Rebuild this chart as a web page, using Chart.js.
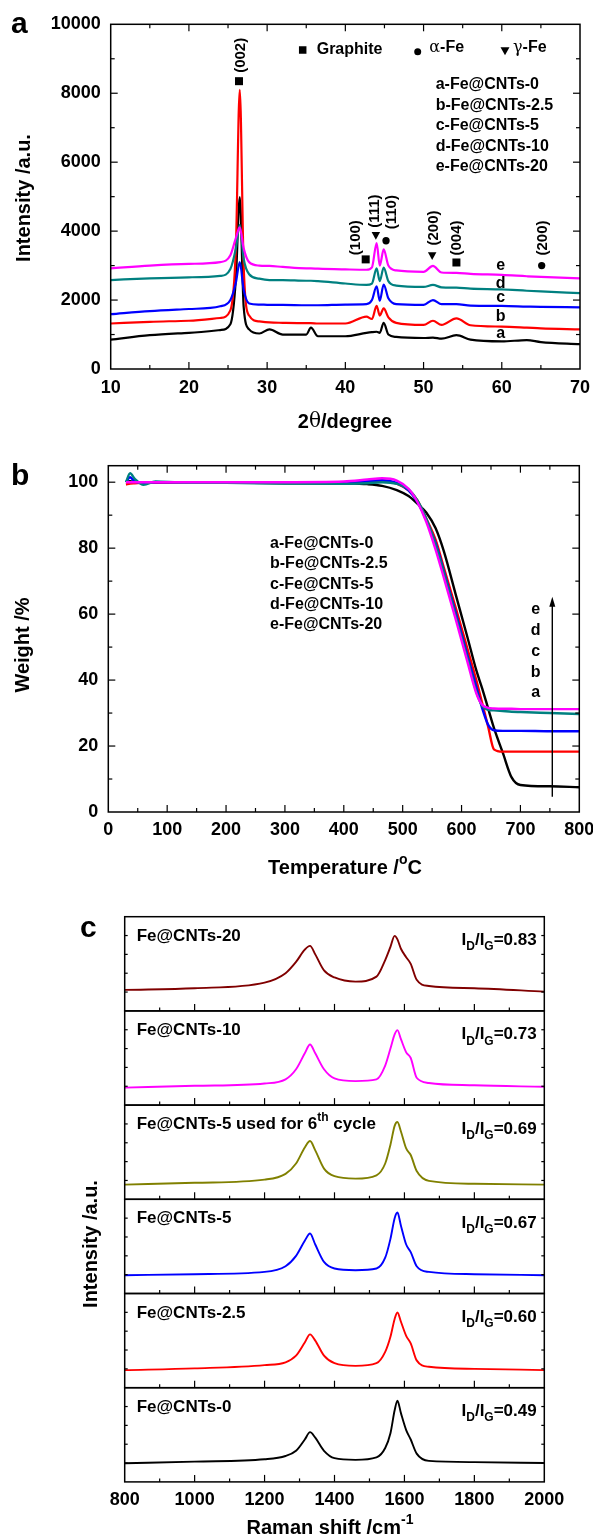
<!DOCTYPE html>
<html>
<head>
<meta charset="utf-8">
<title>Fe@CNTs: XRD, TGA and Raman</title>
<script src="https://cdn.jsdelivr.net/npm/chart.js@4.4.1/dist/chart.umd.min.js"></script>
<style>
  html, body { margin: 0; padding: 0; background: #fff; }
  #fig { position: relative; width: 593px; height: 1538px; overflow: hidden; }
  #fig canvas { position: absolute; left: 0; }
</style>
</head>
<body>
<div id="fig">
  <canvas id="xrd" width="593" height="440" style="top:0px"></canvas>
  <canvas id="tga" width="593" height="440" style="top:440px"></canvas>
</div>
<script>
// ---------------- data ----------------
// (a) XRD, 2theta in degrees
var twoTheta = [10, 15, 20, 24, 25.3, 26, 26.5, 27, 27.7, 29, 30.3, 32, 35, 35.6, 36.5, 40, 42.7, 43.4, 44, 44.4, 44.9, 45.5, 46.5, 50, 51.2, 52.3, 54.2, 56, 60, 63.2, 65, 70];
var xrdFe0   = [850, 980, 1050, 1130, 1300, 2600, 4990, 1800, 1150, 1030, 1150, 1000, 1000, 1200, 950, 950, 1050, 1070, 1080, 1050, 1340, 1000, 930, 900, 910, 880, 980, 850, 800, 840, 780, 720];
var xrdFe2_5 = [1320, 1370, 1400, 1480, 1700, 3500, 8100, 3000, 1550, 1380, 1350, 1340, 1330, 1330, 1320, 1320, 1520, 1450, 1830, 1550, 1760, 1500, 1340, 1280, 1400, 1280, 1470, 1270, 1230, 1200, 1180, 1150];
var xrdFe5   = [1590, 1680, 1740, 1820, 2000, 2500, 3100, 2300, 1900, 1870, 1860, 1860, 1850, 1850, 1850, 1870, 1880, 2000, 2400, 1980, 2450, 2050, 1880, 1860, 2000, 1880, 1880, 1840, 1830, 1810, 1800, 1790];
var xrdFe10  = [2580, 2630, 2660, 2700, 2900, 3500, 4180, 3200, 2750, 2620, 2580, 2580, 2560, 2560, 2550, 2480, 2440, 2480, 2920, 2550, 2940, 2550, 2420, 2380, 2440, 2370, 2360, 2330, 2310, 2270, 2250, 2200];
var xrdFe20  = [2920, 3000, 3050, 3100, 3300, 3800, 4110, 3500, 3100, 3000, 2990, 2960, 2920, 2920, 2910, 2890, 2880, 2950, 3650, 3000, 3470, 3000, 2860, 2820, 2990, 2800, 2790, 2760, 2730, 2690, 2670, 2630];
var xrdXTicks = [10, 20, 30, 40, 50, 60, 70];
var xrdYTicks = [0, 2000, 4000, 6000, 8000, 10000];

// (b) TGA, weight % vs temperature
var tgaTemp   = [30, 37, 45, 60, 80, 120, 200, 300, 400, 440, 465, 490, 510, 525, 540, 556, 570, 590, 610, 625, 635, 645, 655, 670, 685, 700, 750, 800];
var tgaFe0    = [100, 100.3, 100, 99.9, 100, 100, 99.9, 99.7, 99.6, 99.4, 98.9, 97.6, 95.8, 93.5, 90.8, 86, 79, 66, 53, 43, 37.5, 31.5, 25.5, 18, 10.5, 8.2, 7.8, 7.5];
var tgaFe2_5  = [99.3, 99.6, 99.7, 99.8, 99.9, 99.9, 99.9, 99.8, 99.9, 100.3, 100.5, 99.6, 97.5, 94.5, 89, 82.5, 74, 62, 49.5, 40, 33, 26, 19, 18.3, 18.3, 18.3, 18.3, 18.3];
var tgaFe5    = [100, 101.5, 100.2, 99.8, 100, 100, 100, 99.9, 99.9, 100.3, 100.6, 99.8, 97.5, 94, 88.5, 81.5, 73, 60.5, 47.5, 38, 31.5, 26.5, 24.8, 24.6, 24.6, 24.6, 24.5, 24.5];
var tgaFe10   = [100, 102.7, 101, 99.2, 100.2, 99.9, 99.8, 99.6, 99.5, 99.7, 100, 99.5, 97.8, 94.5, 89, 81, 72.5, 59.5, 46.5, 36.5, 32.2, 31, 30.8, 30.6, 30.4, 30.3, 30, 29.7];
var tgaFe20   = [100, 100, 100, 100, 100, 100, 100, 100, 100.2, 100.8, 101.2, 100.5, 98, 94, 88, 79.5, 71, 58.5, 45.5, 36, 32.5, 31.6, 31.4, 31.3, 31.3, 31.2, 31.2, 31.2];
var tgaXTicks = [0, 100, 200, 300, 400, 500, 600, 700, 800];
var tgaYTicks = [0, 20, 40, 60, 80, 100];

var sampleNames = ['a-Fe@CNTs-0', 'b-Fe@CNTs-2.5', 'c-Fe@CNTs-5', 'd-Fe@CNTs-10', 'e-Fe@CNTs-20'];

// (c) Raman, intensity in a.u. (each panel 0..100)
var ramanShift     = [800, 1000, 1200, 1260, 1290, 1315, 1330, 1345, 1370, 1400, 1460, 1520, 1545, 1560, 1572, 1580, 1590, 1605, 1618, 1635, 1670, 1800, 2000];
var ramanFe20      = [22.3, 24.1, 30, 40, 52, 65, 69, 60, 43, 35.5, 31.1, 36.4, 54, 68, 79.6, 76, 66, 57, 50, 33, 26.5, 24.1, 20.5];
var ramanFe10      = [18.5, 20.5, 23, 27.3, 38, 55, 64.4, 55, 38, 28.3, 25.5, 27.3, 42, 60, 75, 79.6, 70, 56, 50, 29, 23.5, 21, 19.5];
var ramanFe5Cycled = [15.6, 17.5, 20.9, 27, 38, 55, 61.9, 52, 32.6, 24.5, 22, 25.5, 38, 58, 78, 82, 72, 54, 47, 30, 19.5, 16.5, 15.6];
var ramanFe5       = [19.4, 20.5, 22.9, 29, 40, 56, 63.7, 52, 33.5, 26.5, 24.7, 26.5, 38, 58, 80, 86, 72, 52, 44, 29, 22.9, 20.5, 19.4];
var ramanFe2_5     = [18.7, 20.5, 24, 27, 34, 48, 56.6, 50, 34, 26, 23.2, 26, 38, 54, 73, 79.9, 70, 55, 47, 29, 22.2, 20, 18.7];
var ramanFe0       = [19.8, 21.5, 24, 27.5, 33, 45, 52.8, 47, 33, 25.2, 23.4, 26, 36, 51.7, 76, 86.3, 73, 55, 45, 30, 22.3, 21, 20];
var ramanRatios    = ['0.83', '0.73', '0.69', '0.67', '0.60', '0.49'];
var ramanXTicks    = [800, 1000, 1200, 1400, 1600, 1800, 2000];

// ---------------- helpers ----------------
var FONT = "'Liberation Sans', Arial, Helvetica, sans-serif";
Chart.defaults.font.family = FONT;
Chart.defaults.color = '#000';

function setFont(ctx, size, weight, family) {
  ctx.font = (weight || 'bold') + ' ' + size + 'px ' + (family || FONT);
}

// parts: strings or {t, sub, sup, weight, family}
function drawRich(ctx, parts, x, y, size, align) {
  var list = [].concat(parts).map(function (p) {
    if (typeof p === 'string') p = { t: p };
    var small = p.sub || p.sup;
    return {
      t: p.t,
      s: small ? Math.round(size * 0.68) : size,
      dy: p.sub ? size * 0.3 : (p.sup ? -size * 0.4 : 0),
      weight: p.weight, family: p.family
    };
  });
  var total = 0;
  list.forEach(function (it) {
    setFont(ctx, it.s, it.weight, it.family);
    it.w = ctx.measureText(it.t).width;
    total += it.w;
  });
  var cx = align === 'right' ? x - total : (align === 'center' ? x - total / 2 : x);
  ctx.textAlign = 'left';
  list.forEach(function (it) {
    setFont(ctx, it.s, it.weight, it.family);
    ctx.fillText(it.t, cx, y + it.dy);
    cx += it.w;
  });
}

function drawMarker(ctx, shape, x, y, s) {
  ctx.beginPath();
  if (shape === 'square') {
    ctx.rect(x - s / 2, y - s / 2, s, s);
  } else if (shape === 'circle') {
    ctx.arc(x, y, s / 2, 0, Math.PI * 2);
  } else {
    ctx.moveTo(x - s / 2, y - s * 0.42);
    ctx.lineTo(x + s / 2, y - s * 0.42);
    ctx.lineTo(x, y + s * 0.48);
    ctx.closePath();
  }
  ctx.fill();
}

// tick marks [value, length] between min and max (ends skipped, they sit on the frame)
function tickMarks(min, max, step, majors, majorLen, minorLen) {
  var out = [];
  for (var v = min + step; v < max - 1e-9; v += step) {
    out.push([v, majors.indexOf(v) >= 0 ? majorLen : minorLen]);
  }
  return out;
}

// frame, inward ticks, markers and text drawn on top of the datasets
function decor(cfg) {
  return {
    id: 'decor',
    afterDatasetsDraw: function (chart) {
      var ctx = chart.ctx, a = chart.chartArea, sx = chart.scales.x, sy = chart.scales.y;
      ctx.save();
      ctx.strokeStyle = '#000';
      ctx.fillStyle = '#000';
      ctx.lineWidth = 1.5;
      ctx.strokeRect(a.left, a.top, a.right - a.left, a.bottom - a.top);
      ctx.lineWidth = 1.2;
      function seg(x1, y1, x2, y2) { ctx.beginPath(); ctx.moveTo(x1, y1); ctx.lineTo(x2, y2); ctx.stroke(); }
      (cfg.xTicks || []).forEach(function (t) {
        var px = sx.getPixelForValue(t[0]);
        seg(px, a.bottom, px, a.bottom - t[1]);
        if (cfg.mirror) seg(px, a.top, px, a.top + t[1]);
      });
      (cfg.yTicks || []).forEach(function (t) {
        var py = sy.getPixelForValue(t[0]);
        seg(a.left, py, a.left + t[1], py);
        seg(a.right, py, a.right - t[1], py);
      });
      (cfg.markers || []).forEach(function (m) {
        drawMarker(ctx, m.shape, m.px ? m.x : sx.getPixelForValue(m.x), m.px ? m.y : sy.getPixelForValue(m.y), m.size);
      });
      (cfg.arrows || []).forEach(function (r) {
        ctx.lineWidth = 1.4;
        seg(r.x, r.y1, r.x, r.y2 + 8);
        ctx.beginPath();
        ctx.moveTo(r.x, r.y2);
        ctx.lineTo(r.x - 3, r.y2 + 10);
        ctx.lineTo(r.x + 3, r.y2 + 10);
        ctx.closePath();
        ctx.fill();
      });
      (cfg.texts || []).forEach(function (t) {
        var px, py;
        if (t.rel) { px = a.left + t.x; py = a.top + t.y; }
        else if (t.data) { px = sx.getPixelForValue(t.x); py = sy.getPixelForValue(t.y); }
        else { px = t.x; py = t.y; }
        ctx.save();
        ctx.textBaseline = t.baseline || 'middle';
        ctx.translate(px, py);
        if (t.rotate) ctx.rotate(t.rotate);
        drawRich(ctx, t.parts, 0, 0, t.size, t.align || 'left');
        ctx.restore();
      });
      ctx.restore();
    }
  };
}

function lineSet(xs, ys, color, width) {
  return {
    data: xs.map(function (x, i) { return { x: x, y: ys[i] }; }),
    borderColor: color,
    borderWidth: width,
    pointRadius: 0,
    fill: false,
    cubicInterpolationMode: 'monotone'
  };
}

function fixedTicks(values) {
  return function (scale) { scale.ticks = values.map(function (v) { return { value: v }; }); };
}

function plainLabel(v) { return String(v); }

function xScale(min, max, ticks, height, pad, show) {
  return {
    type: 'linear', min: min, max: max, display: show,
    grid: { display: false, drawTicks: false }, border: { display: false },
    afterBuildTicks: fixedTicks(ticks),
    afterFit: function (s) { s.height = show ? height : 0; s.paddingLeft = 0; s.paddingRight = 0; },
    ticks: { padding: pad, maxRotation: 0, autoSkip: false, color: '#000', callback: plainLabel, font: { size: 18, weight: 'bold' } }
  };
}

function yScale(min, max, ticks, width, show) {
  return {
    type: 'linear', min: min, max: max, display: show,
    grid: { display: false, drawTicks: false }, border: { display: false },
    afterBuildTicks: fixedTicks(ticks),
    afterFit: function (s) { s.width = show ? width : 0; s.paddingTop = 0; s.paddingBottom = 0; },
    ticks: { padding: 10, color: '#000', callback: plainLabel, font: { size: 18, weight: 'bold' } }
  };
}

function baseOptions(padding, scales) {
  return {
    responsive: false, animation: false, events: [],
    layout: { padding: padding },
    plugins: { legend: { display: false }, tooltip: { enabled: false } },
    scales: scales
  };
}

// ---------------- (a) XRD ----------------
var xrdPeaks = [
  { shape: 'square', x: 26.4, y: 8350, label: '(002)', lx: 26.7, ly: 9100 },
  { shape: 'square', x: 42.6, y: 3180, label: '(100)', lx: 41.3, ly: 3810 },
  { shape: 'tri',    x: 43.9, y: 3870, label: '(111)', lx: 43.8, ly: 4580 },
  { shape: 'circle', x: 45.2, y: 3720, label: '(110)', lx: 45.9, ly: 4550 },
  { shape: 'tri',    x: 51.1, y: 3280, label: '(200)', lx: 51.3, ly: 4090 },
  { shape: 'square', x: 54.2, y: 3090, label: '(004)', lx: 54.2, ly: 3800 },
  { shape: 'circle', x: 65.1, y: 3000, label: '(200)', lx: 65.2, ly: 3800 }
];
var markerSize = { square: 8, circle: 7.3, tri: 8.5 };

var xrdTexts = [
  { parts: 'a', x: 11, y: 33, size: 30, baseline: 'alphabetic' },
  { parts: 'Intensity /a.u.', x: 24, y: 198, size: 20, align: 'center', rotate: -Math.PI / 2 },
  { parts: ['2', { t: '\u03b8', weight: 'normal', family: "'DejaVu Serif', serif" }, '/degree'], x: 345, y: 422, size: 20, align: 'center' },
  { parts: 'Graphite', x: 316.7, y: 50, size: 16 },
  { parts: [{ t: '\u03b1', weight: 'normal', family: "'DejaVu Serif', serif" }, '-Fe'], x: 429.3, y: 48, size: 16 },
  { parts: [{ t: '\u03b3', weight: 'normal', family: "'DejaVu Serif', serif" }, '-Fe'], x: 513, y: 48, size: 16 }
];
sampleNames.forEach(function (n, i) {
  xrdTexts.push({ parts: n, x: 435.7, y: 85 + i * 20.4, size: 16 });
});
['e', 'd', 'c', 'b', 'a'].forEach(function (l, i) {
  xrdTexts.push({ parts: l, x: 500.7, y: [266, 283.3, 297.7, 316.7, 334][i], size: 16, align: 'center' });
});
var xrdMarkers = [
  { shape: 'square', x: 302.7, y: 50, size: 7.5, px: true },
  { shape: 'circle', x: 417.7, y: 51.7, size: 7, px: true },
  { shape: 'tri', x: 505, y: 51, size: 9, px: true }
];
xrdPeaks.forEach(function (p) {
  xrdMarkers.push({ shape: p.shape, x: p.x, y: p.y, size: markerSize[p.shape] });
  xrdTexts.push({ parts: p.label, x: p.lx, y: p.ly, data: true, size: 15, align: 'center', rotate: -Math.PI / 2 });
});

new Chart(document.getElementById('xrd'), {
  type: 'line',
  data: {
    datasets: [
      lineSet(twoTheta, xrdFe20, '#ff00ff', 2.2),
      lineSet(twoTheta, xrdFe10, '#008080', 2.2),
      lineSet(twoTheta, xrdFe5, '#0000ff', 2.2),
      lineSet(twoTheta, xrdFe2_5, '#ff0000', 2.2),
      lineSet(twoTheta, xrdFe0, '#000000', 2.2)
    ]
  },
  options: baseOptions({ left: 0, top: 24.3, right: 13, bottom: 0 }, {
    x: xScale(10, 70, xrdXTicks, 71, 8.5, true),
    y: yScale(0, 10000, xrdYTicks, 110.7, true)
  }),
  plugins: [decor({
    mirror: true,
    xTicks: tickMarks(10, 70, 5, xrdXTicks, 7, 4),
    yTicks: tickMarks(0, 10000, 1000, xrdYTicks, 7, 4),
    markers: xrdMarkers,
    texts: xrdTexts
  })]
});

// ---------------- (b) TGA ----------------
var tgaTexts = [
  { parts: 'b', x: 11, y: 45, size: 30, baseline: 'alphabetic' },
  { parts: 'Weight /%', x: 23, y: 205, size: 20, align: 'center', rotate: -Math.PI / 2 },
  { parts: ['Temperature /', { t: 'o', sup: true }, 'C'], x: 345, y: 428, size: 20, align: 'center' }
];
sampleNames.forEach(function (n, i) {
  tgaTexts.push({ parts: n, x: 270, y: 103.3 + i * 20.4, size: 16 });
});
['e', 'd', 'c', 'b', 'a'].forEach(function (l, i) {
  tgaTexts.push({ parts: l, x: 535.7, y: 170 + i * 20.7, size: 16, align: 'center' });
});

new Chart(document.getElementById('tga'), {
  type: 'line',
  data: {
    datasets: [
      lineSet(tgaTemp, tgaFe20, '#ff00ff', 2.4),
      lineSet(tgaTemp, tgaFe10, '#008080', 2.4),
      lineSet(tgaTemp, tgaFe5, '#0000ff', 2.4),
      lineSet(tgaTemp, tgaFe2_5, '#ff0000', 2.4),
      lineSet(tgaTemp, tgaFe0, '#000000', 2.4)
    ]
  },
  options: baseOptions({ left: 0, top: 25.7, right: 13.7, bottom: 0 }, {
    x: xScale(0, 800, tgaXTicks, 68, 7.2, true),
    y: yScale(0, 105, tgaYTicks, 108.3, true)
  }),
  plugins: [decor({
    mirror: true,
    xTicks: tickMarks(0, 800, 50, tgaXTicks, 7, 4),
    yTicks: tickMarks(0, 105, 10, tgaYTicks, 7, 4),
    arrows: [{ x: 552.3, y1: 356.7, y2: 156.7 }],
    texts: tgaTexts
  })]
});

// ---------------- (c) Raman, six stacked panels ----------------
var ramanPanels = [
  { name: ['Fe@CNTs-20'], data: ramanFe20, color: '#800000' },
  { name: ['Fe@CNTs-10'], data: ramanFe10, color: '#ff00ff' },
  { name: ['Fe@CNTs-5 used for 6', { t: 'th', sup: true }, ' cycle'], data: ramanFe5Cycled, color: '#808000' },
  { name: ['Fe@CNTs-5'], data: ramanFe5, color: '#0000ff' },
  { name: ['Fe@CNTs-2.5'], data: ramanFe2_5, color: '#ff0000' },
  { name: ['Fe@CNTs-0'], data: ramanFe0, color: '#000000' }
];

var fig = document.getElementById('fig');
var cH = 678, cTop = 56.7, cStep = 94.2;
ramanPanels.forEach(function (p, i) {
  var cv = document.createElement('canvas');
  cv.width = 593; cv.height = cH;
  cv.style.top = '860px';
  fig.appendChild(cv);

  var last = i === ramanPanels.length - 1;
  var top = cTop + i * cStep;
  var bottom = top + cStep;
  var texts = [
    { parts: p.name, x: 12, y: 19.5, rel: true, size: 17 },
    { parts: ['I', { t: 'D', sub: true }, '/I', { t: 'G', sub: true }, '=' + ramanRatios[i]], x: 412, y: 28.5, rel: true, size: 17, align: 'right', baseline: 'alphabetic' }
  ];
  if (i === 0) {
    texts.push({ parts: 'c', x: 80, y: 77, size: 30, baseline: 'alphabetic' });
    texts.push({ parts: 'Intensity /a.u.', x: 91, y: 384, size: 20, align: 'center', rotate: -Math.PI / 2 });
  }
  if (last) {
    texts.push({ parts: ['Raman shift /cm', { t: '-1', sup: true }], x: 330, y: 668, size: 20, align: 'center' });
  }

  new Chart(cv, {
    type: 'line',
    data: { datasets: [lineSet(ramanShift, p.data, p.color, 1.9)] },
    options: baseOptions({ left: 124.7, top: top, right: 48.7, bottom: last ? 0 : cH - bottom }, {
      x: xScale(800, 2000, ramanXTicks, cH - bottom, 7.3, last),
      y: yScale(0, 100, [0, 100], 0, false)
    }),
    plugins: [decor({
      mirror: false,
      xTicks: tickMarks(800, 2000, 100, ramanXTicks, 7, 3.5),
      yTicks: tickMarks(0, 100, 20, [], 3, 3),
      texts: texts
    })]
  });
});
</script>
</body>
</html>
